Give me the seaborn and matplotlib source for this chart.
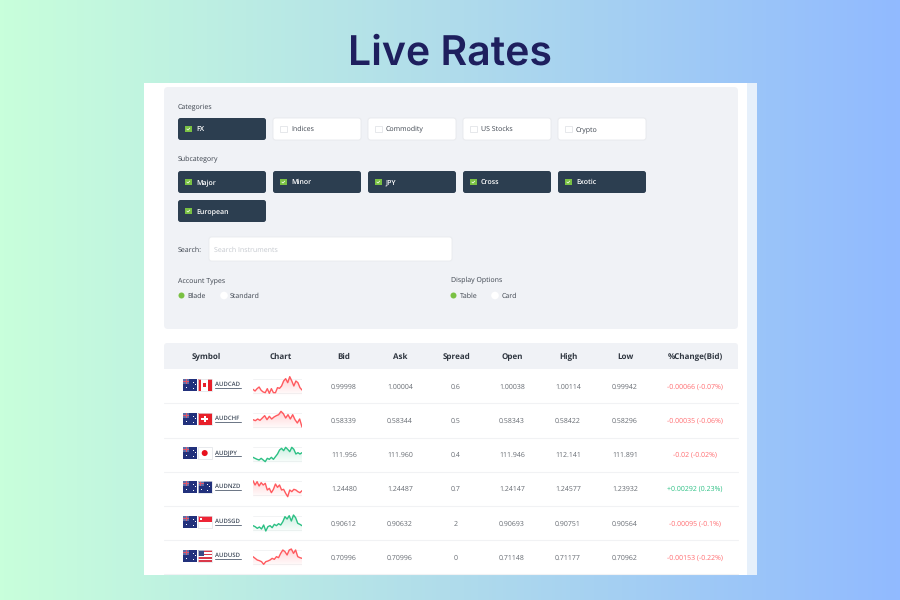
import numpy as np
import pandas as pd
import matplotlib
matplotlib.use("Agg")
import matplotlib.pyplot as plt
from matplotlib.patches import FancyBboxPatch, Rectangle, Circle
import seaborn as sns

sns.set_theme(style="white")
plt.rcParams['font.family'] = ['Open Sans', 'DejaVu Sans']
plt.rcParams['text.hinting'] = 'no_hinting'
plt.rcParams['text.hinting_factor'] = 1

TITLE = "Live Rates"
categories = ["FX", "Indices", "Commodity", "US Stocks", "Crypto"]
categories_on = [True, False, False, False, False]
subcategories = ["Major", "Minor", "JPY", "Cross", "Exotic", "European"]
columns = ["Symbol", "Chart", "Bid", "Ask", "Spread", "Open", "High", "Low", "%Change(Bid)"]
symbols = ["AUDCAD", "AUDCHF", "AUDJPY", "AUDNZD", "AUDSGD", "AUDUSD"]
bid = ["0.99998", "0.58339", "111.956", "1.24480", "0.90612", "0.70996"]
ask = ["1.00004", "0.58344", "111.960", "1.24487", "0.90632", "0.70996"]
spread = ["0.6", "0.5", "0.4", "0.7", "2", "0"]
open_ = ["1.00038", "0.58343", "111.946", "1.24147", "0.90693", "0.71148"]
high = ["1.00114", "0.58422", "112.141", "1.24577", "0.90751", "0.71177"]
low = ["0.99942", "0.58296", "111.891", "1.23932", "0.90564", "0.70962"]
change = ["-0.00066 (-0.07%)", "-0.00035 (-0.06%)", "-0.02 (-0.02%)",
          "+0.00292 (0.23%)", "-0.00095 (-0.1%)", "-0.00153 (-0.22%)"]

spark_cad = [20, 15, 22, 27, 17, 12, 10, 22, 8, 22, 10, 10, 25, 23, 30, 45, 52, 40, 58, 45, 30, 45, 40, 25, 18]
spark_chf = [31, 28, 33, 29, 36, 43, 31, 41, 33, 39, 43, 46, 56, 49, 36, 46, 33, 46, 31, 21, 33, 9]
spark_jpy = [20, 17, 14, 12, 17, 12, 7, 17, 14, 20, 14, 22, 30, 42, 47, 40, 50, 44, 37, 50, 44, 30, 34, 30, 34]
spark_nzd = [52, 39, 49, 36, 46, 39, 44, 24, 29, 16, 26, 42, 32, 39, 24, 26, 14, 4, 24, 19, 26, 24, 19, 16, 22]
spark_sgd = [22, 19, 14, 18, 12, 24, 6, 19, 22, 16, 26, 22, 28, 24, 34, 49, 42, 52, 36, 54, 46, 29, 26, 22]
spark_usd = [31, 26, 21, 19, 16, 8, 16, 18, 21, 26, 23, 31, 28, 41, 51, 46, 36, 51, 54, 41, 51, 31, 28, 26]
sparks = [spark_cad, spark_chf, spark_jpy, spark_nzd, spark_sgd, spark_usd]
spark_up = [False, False, True, False, True, False]

W, H = 900, 600
fig = plt.figure(figsize=(9, 6), dpi=100)
bg = fig.add_axes([0, 0, 1, 1], zorder=0)
bg.set_xlim(0, W); bg.set_ylim(H, 0); bg.axis("off")

# background gradient
c0, c1, c2 = np.array([200, 255, 219]) / 255, np.array([176, 220, 235]) / 255, np.array([145, 186, 255]) / 255
t = np.linspace(0, 1, 256)[None, :, None]
grad = np.where(t < .5, c0 + (c1 - c0) * t * 2, c1 + (c2 - c1) * (t - .5) * 2)
bg.imshow(grad, extent=(0, W, H, 0), aspect="auto", zorder=0)
bg.set_xlim(0, W); bg.set_ylim(H, 0)

bg.text(450, 50, TITLE, ha="center", va="center_baseline", fontsize=29.5, fontweight="semibold",
        color="#1e1f5e", family=["Inter", "DejaVu Sans"], zorder=5)


def box(x0, y0, x1, y1, fc, ec="none", r=2.5, z=2, lw=.6):
    bg.add_patch(FancyBboxPatch((x0 + r, y0 + r), x1 - x0 - 2 * r, y1 - y0 - 2 * r,
                                boxstyle=f"round,pad={r},rounding_size={r}",
                                fc=fc, ec=ec, lw=lw, zorder=z))


def rect(x, y, w, h, c, z=4):
    bg.add_patch(Rectangle((x, y), w, h, fc=c, ec="none", zorder=z))


def label(x, y, s, size=5.4, c="#3c434d", weight="medium", ha="left"):
    bg.text(x, y + 0.36 * size * 100 / 72, s, fontsize=size, color=c, fontweight=weight,
            ha=ha, va="baseline", zorder=6)


# panels
rect(144, 83, 613, 492, "white", 1)
rect(747, 83, 10, 492, "#e6f0fb", 1)
box(164, 87, 738, 329, "#f0f2f6", r=4)

# controls
DARK = "#2c3e50"
GREEN = "#7ac143"
btn_x = [178, 273, 368, 463, 558]


def button(x, y, s, on):
    box(x, y, x + 88, y + 22, DARK if on else "white", ec="none" if on else "#e6e8ec")
    if on:
        rect(x + 7, y + 7.5, 6.5, 6.5, GREEN)
        bg.plot([x + 8.8, x + 10, x + 11.8], [y + 11, y + 12, y + 10], color="white", lw=.5, zorder=5)
    else:
        bg.add_patch(Rectangle((x + 7, y + 7.5), 6.5, 6.5, fc="white", ec="#e2e4e8", lw=.6, zorder=4))
    label(x + 18, y + 10.7, s, 5.3, "white" if on else "#3f4650", "semibold" if on else "medium")


label(178, 106, "Categories")
for x, s, on in zip(btn_x, categories, categories_on):
    button(x, 118, s, on)
label(178, 159, "Subcategory")
for x, s in zip(btn_x, subcategories[:5]):
    button(x, 171, s, True)
button(178, 200, subcategories[5], True)

label(178, 249.5, "Search:")
box(209, 237, 452, 261, "white", ec="#e8eaee")
label(214, 249.5, "Search Instruments", 5.4, "#c4c8ce", "normal")
label(178, 280, "Account Types")
label(451, 280, "Display Options")
for cx, tx, s, on in [(181.5, 187, "Blade", True), (224, 230, "Standard", False),
                      (453.5, 460, "Table", True), (495, 502, "Card", False)]:
    bg.add_patch(Circle((cx, 295.5), 3 if on else 3.8, fc=GREEN if on else "white", ec="none", zorder=4))
    label(tx, 295.5, s)

# table
box(164, 343, 738, 372, "#f0f2f6", r=3)
rect(164, 369, 574, 5, "white", 3)
col_x = [206, 281, 344, 400, 456, 512, 568, 625, 695]
for x, s in zip(col_x, columns):
    label(x, 356, s, 5.9, "#2f3640", "bold", "center")

row_y = [386, 420, 454, 488, 523, 557]
for y in [403, 437.5, 471.5, 506, 540, 574]:
    bg.plot([164, 738], [y, y], color="#f1f2f4", lw=.8, zorder=3)
bg.set_xlim(0, W); bg.set_ylim(H, 0)

RED, GRN = "#ff5a5f", "#2cc084"
FH = 11.5


def aus_flag(x, y):
    rect(x, y, 14, FH, "#22317c")
    rect(x, y, 6, 5, "#5f6fa8", 4)
    rect(x + 2.4, y, 1.2, 5, "#e0566b", 5)
    rect(x, y + 2, 6, 1.1, "#e0566b", 5)
    for dx, dy in [(9.5, 2.5), (11.5, 5), (9.5, 8.5), (3, 8)]:
        rect(x + dx, y + dy, 1, 1, "white", 5)


def other_flag(x, y, sym):
    w, h = 14, FH
    if sym == "AUDCAD":
        rect(x, y, w, h, "white"); rect(x, y, 3.2, h, "#e8202a", 5); rect(x + 10.3, y, 3.7, h, "#e8202a", 5)
        rect(x + 5.3, y + 3.5, 3, 4.5, "#e8202a", 5)
    elif sym == "AUDCHF":
        rect(x, y, w, h, "#e8202a"); rect(x + 5.8, y + 2.4, 2.4, 6.7, "white", 5); rect(x + 3.7, y + 4.6, 6.6, 2.4, "white", 5)
    elif sym == "AUDJPY":
        rect(x, y, w, h, "white")
        bg.add_patch(Circle((x + 7, y + h / 2), 3, fc="#e8101c", ec="none", zorder=5))
    elif sym == "AUDNZD":
        aus_flag(x, y)
    elif sym == "AUDSGD":
        rect(x, y, w, h / 2, "#ee2536"); rect(x, y + h / 2, w, h / 2, "white")
        rect(x + 2.5, y + 2, 1.5, 2, "white", 5)
    else:
        rect(x, y, w, h, "white")
        for i in range(0, 7, 2):
            rect(x, y + i * h / 7, w, h / 7, "#d9394a", 5)
        rect(x, y, 6.5, 5.5, "#3a4a85", 6)
    bg.add_patch(Rectangle((x, y), w, h, fc="none", ec="#dfe2e6", lw=.5, zorder=7))


for i, (sym, y) in enumerate(zip(symbols, row_y)):
    aus_flag(183.2, y - 6.7)
    other_flag(197.7, y - 6.7, sym)
    label(215, y - 2, sym, 4.6, "#3f4a5a", "semibold")
    bg.plot([215, 241], [y + 2.4, y + 2.4], color="#6a7484", lw=.7, zorder=6)
    for x, s in zip(col_x[2:8], [bid[i], ask[i], spread[i], open_[i], high[i], low[i]]):
        label(x, y, s, 5.0, "#666b72", "normal", "center")
    label(col_x[8], y, change[i], 4.9, GRN if change[i].startswith("+") else "#ff6b6f", "normal", "center")
    bg.set_xlim(0, W); bg.set_ylim(H, 0)

    # sparkline
    ax = fig.add_axes([253 / W, 1 - (y + 10) / H, 49 / W, 20 / H], zorder=3)
    ax.patch.set_alpha(0)
    color = GRN if spark_up[i] else RED
    df = pd.DataFrame({"t": np.arange(len(sparks[i])), "v": sparks[i]})
    ax.axhline(52, color="#f0f1f3", lw=.6, zorder=1)
    ax.axhline(8, color="#f0f1f3", lw=.6, zorder=1)
    sns.lineplot(data=df, x="t", y="v", ax=ax, color=color, lw=1.0, errorbar=None, zorder=3)
    poly = ax.fill_between(df["t"], df["v"], 0, color="none", lw=0)
    rgba = np.ones((64, 2, 4))
    rgba[..., :3] = matplotlib.colors.to_rgb(color)
    rgba[..., 3] = np.linspace(.28, 0, 64)[:, None]
    im = ax.imshow(rgba, extent=(0, len(df) - 1, 0, 60), aspect="auto", zorder=2, origin="upper")
    im.set_clip_path(poly.get_paths()[0], transform=ax.transData)
    ax.set_xlim(0, len(df) - 1)
    ax.set_ylim(0, 60)
    ax.axis("off")

fig.savefig("out.png", dpi=100)
